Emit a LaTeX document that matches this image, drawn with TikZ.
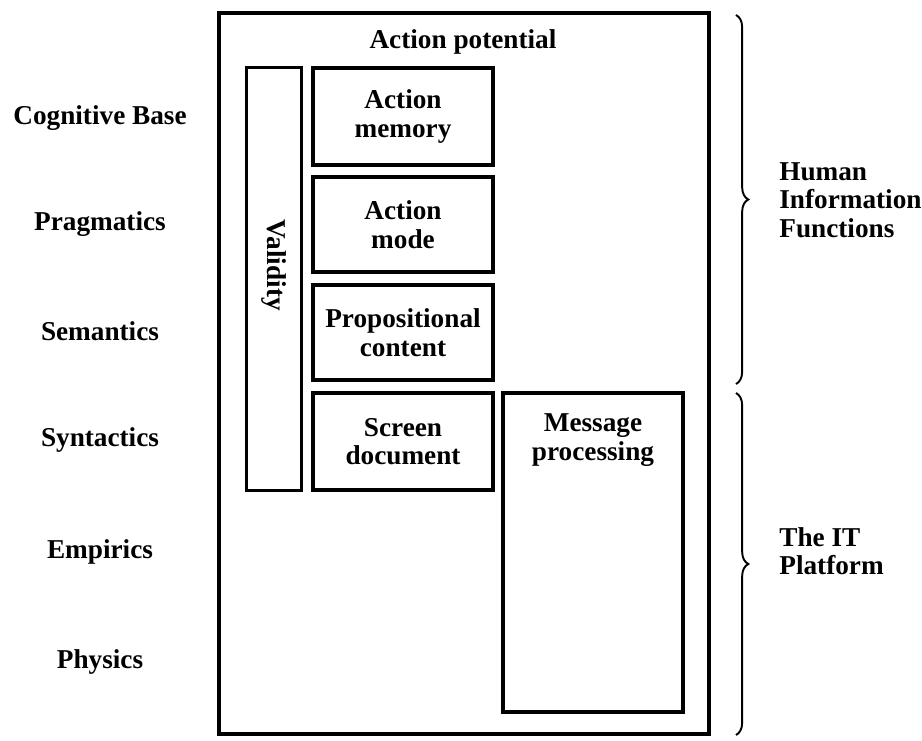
\documentclass[tikz,border=0pt]{standalone}
\usepackage{fontspec}
\setmainfont{Liberation Serif}
\usepackage{tikz}
\usetikzlibrary{positioning, calc, decorations.pathreplacing}

\tikzset{
  blk/.style={draw, line width=2pt, minimum width=180*0.02cm, inner sep=0pt, align=center, font=\bfseries\fontsize{15.5}{16.3}\selectfont},
  lvl/.style={font=\bfseries\fontsize{15.5}{16.3}\selectfont, align=center},
  brc/.style={decorate, decoration={brace, amplitude=7pt}, line width=1.1pt}
}

\begin{document}
\begin{tikzpicture}[x=0.02cm, y=-0.02cm]
  \useasboundingbox (0,0) rectangle (922,740);

  % Outer frame
  \node[draw, line width=2pt, minimum width=490*0.02cm, minimum height=721*0.02cm, inner sep=0pt] (frame) at (464, 373.5) {};
  \node[lvl] (ap) at (463, 42) {Action potential};

  % Validity column
  \node[draw, line width=2pt, minimum width=55*0.02cm, minimum height=423*0.02cm, inner sep=0pt] (val) at (274, 279) {};
  \node[lvl, rotate=-90] (valtxt) at (274, 265) {Validity};

  % Inner boxes
  \node[blk, minimum height=97*0.02cm] (mem) at (403, 116.5) {Action\\memory};
  \node[blk, minimum height=95*0.02cm] (mode) at (403, 224.5) {Action\\mode};
  \node[blk, minimum height=95*0.02cm] (prop) at (403, 332.5) {Propositional\\content};
  \node[blk, minimum height=97*0.02cm] (scr) at (403, 441.5) {Screen\\document};
  \node[blk, minimum height=319*0.02cm] (msg) at (593, 552.5) {};
  \node[lvl] (msgtxt) at (593, 440) {Message\\processing};

  % Level names
  \node[lvl] (cog) at (100, 118) {Cognitive Base};
  \node[lvl] (prag) at (100, 224) {Pragmatics};
  \node[lvl] (sem) at (100, 331) {Semantics};
  \node[lvl] (syn) at (100, 440) {Syntactics};
  \node[lvl] (emp) at (100, 552) {Empirics};
  \node[lvl] (phy) at (100, 662) {Physics};

  % Braces
  \coordinate (h1) at (736, 15);
  \coordinate (h2) at (736, 384);
  \coordinate (t1) at (736, 393);
  \coordinate (t2) at (736, 735);
  \draw[brc] (h1) -- (h2);
  \draw[brc] (t1) -- (t2);
  \node[lvl, anchor=west, align=left, inner sep=0pt] (hif) at (779, 200) {Human\\Information\\Functions};
  \node[lvl, anchor=west, align=left, inner sep=0pt] (itp) at (779, 551) {The IT\\Platform};
\end{tikzpicture}
\end{document}
